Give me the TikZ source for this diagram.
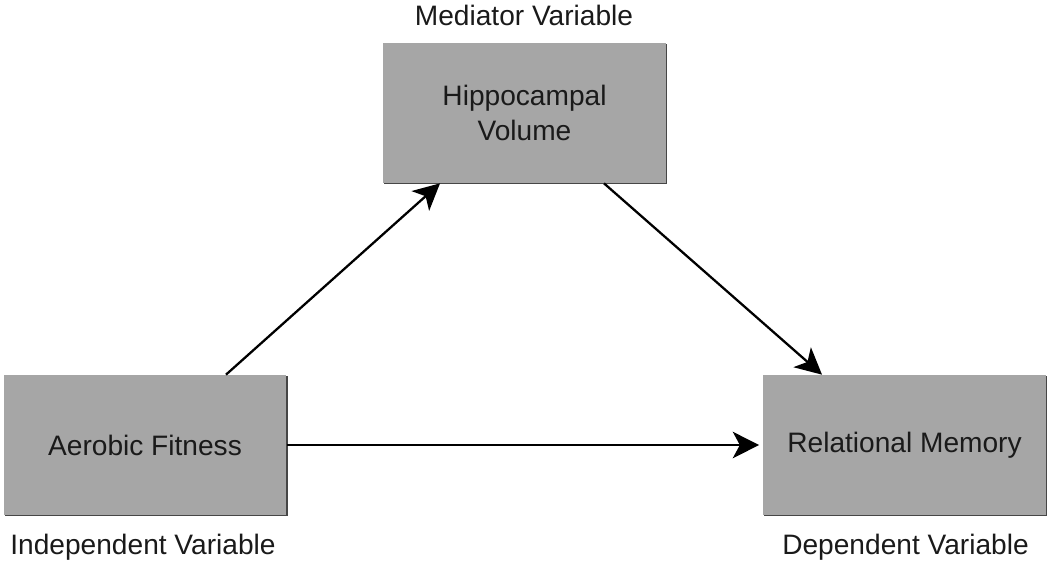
\documentclass[tikz,border=0pt]{standalone}
\usepackage{fontspec}
\setmainfont{Liberation Sans}
\usetikzlibrary{arrows.meta,shadows}

\definecolor{boxgray}{HTML}{A6A6A6}
\definecolor{inkgray}{HTML}{1A1A1A}

\begin{document}
\begin{tikzpicture}
    [x=0.02cm, y=-0.02cm,
     varbox/.style={fill=boxgray,
        minimum width=5.66cm,
        minimum height=2.8cm,
        align=center,
        text=inkgray,
        font=\fontsize{16}{20}\selectfont,
        drop shadow={shadow xshift=0.8pt, shadow yshift=-0.8pt,
            fill=gray!55!black, opacity=1}},
     vartext/.style={text=inkgray, font=\fontsize{16}{20}\selectfont},
     effect/.style={-{Stealth[length=15pt, width=15pt, inset=4pt]},
        line width=1.3pt, draw=black}]
    \useasboundingbox (0,0) rectangle (1050,565);

    % Mediator
    \node [varbox] (hippo) at (524.5,113) {Hippocampal\\Volume};
    \node [vartext] (medlabel) at (524,15) {Mediator Variable};

    % Independent
    \node [varbox] (fitness) at (145,445) {Aerobic Fitness};
    \node [vartext] (indlabel) at (143,547) {Independent Variable};

    % Dependent
    \node [varbox] (memory) at (904.5,445) {Relational Memory\vphantom{A}};
    \node [vartext] (deplabel) at (905.5,547) {Dependent Variable};

    % Paths
    \draw [effect] ([xshift=1.62cm]fitness.north) -- ([xshift=-1.69cm]hippo.south);
    \draw [effect] ([xshift=1.59cm]hippo.south) -- ([xshift=-1.65cm]memory.north);
    \draw [effect] (fitness.east) -- ([xshift=-2pt]memory.west);
\end{tikzpicture}
\end{document}
